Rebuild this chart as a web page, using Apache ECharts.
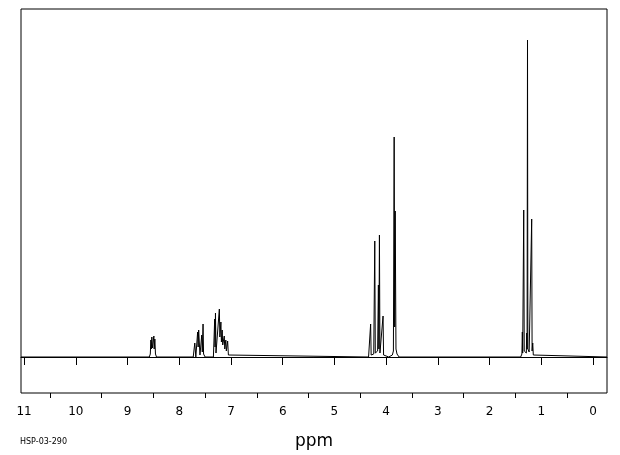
<!DOCTYPE html>
<html>
<head>
<meta charset="utf-8">
<script src="https://cdn.jsdelivr.net/npm/echarts@6/dist/echarts.min.js"></script>
<style>
  html, body { margin: 0; padding: 0; background: #fff; }
  #chart { width: 620px; height: 455px; }
</style>
</head>
<body>
<div id="chart"></div>
<script>
// spectrum vertices (ppm, relative intensity)
const shiftPpm = [
  11.06,
  8.58, 8.56, 8.549, 8.54, 8.53, 8.52, 8.491, 8.485, 8.472, 8.46, 8.44,
  7.73, 7.70, 7.68, 7.66, 7.645, 7.635, 7.625, 7.60, 7.58, 7.565, 7.555, 7.54, 7.53, 7.50,
  7.34, 7.315, 7.308, 7.30, 7.29, 7.26, 7.225, 7.215, 7.195, 7.185, 7.17, 7.16, 7.13, 7.12, 7.10, 7.09, 7.065, 7.05, 7.02,
  4.34, 4.30, 4.29, 4.24, 4.22, 4.21, 4.165, 4.15, 4.14, 4.13, 4.12, 4.06, 4.05, 3.95,
  3.88, 3.86, 3.845, 3.835, 3.825, 3.81, 3.79, 3.75,
  1.40, 1.375, 1.367, 1.36, 1.34, 1.33, 1.29, 1.282, 1.275, 1.267, 1.26, 1.244, 1.235, 1.186, 1.178, 1.166, 1.155, 1.13,
  -0.27
];
const intensity = [
  0,
  0, 3, 17, 8, 20, 9, 21, 8, 18, 3, 0,
  0, 14, 0, 2, 25, 10, 27, 2, 4, 22, 5, 33, 3, 0,
  0, 38, 10, 44, 4, 3, 48, 20, 35, 15, 27, 12, 21, 8, 17, 6, 16, 2, 0,
  0, 33, 2, 3, 116, 4, 6, 72, 8, 122, 4, 41, 2, 0,
  2, 6, 220, 30, 146, 8, 3, 0,
  0, 3, 25, 4, 147, 6, 4, 24, 8, 317, 8, 10, 5, 138, 6, 14, 2, 0,
  0
];
const majorTicks = [0, 1, 2, 3, 4, 5, 6, 7, 8, 9, 10, 11];
const minorTicks = [0.5, 1.5, 2.5, 3.5, 4.5, 5.5, 6.5, 7.5, 8.5, 9.5, 10.5];

const chart = echarts.init(document.getElementById('chart'));

const spectrum = shiftPpm.map((p, i) => [p, intensity[i]]);

const option = {
  animation: false,
  backgroundColor: '#fff',
  grid: {
    left: 21, right: 13, top: 9, bottom: 62,
    outerBoundsMode: 'none',
    containLabel: false,
    show: true, borderColor: '#000', borderWidth: 1
  },
  xAxis: [
    {
      type: 'value',
      inverse: true,
      min: -0.27,
      max: 11.06,
      position: 'bottom',
      name: 'ppm',
      nameLocation: 'middle',
      nameGap: 40,
      nameTextStyle: { color: '#000', fontSize: 17, fontFamily: 'DejaVu Sans' },
      axisLine: { show: true, lineStyle: { color: '#000', width: 1 } },
      axisTick: { show: true, length: 8, customValues: majorTicks, lineStyle: { color: '#000' } },
      axisLabel: {
        customValues: majorTicks, color: '#000', fontSize: 12,
        fontFamily: 'DejaVu Sans', margin: 13
      },
      splitLine: { show: false }
    },
    {
      type: 'value',
      inverse: true,
      min: -0.27,
      max: 11.06,
      position: 'bottom',
      axisLine: { show: false },
      axisTick: { show: true, length: 5, customValues: minorTicks, lineStyle: { color: '#000' } },
      axisLabel: { show: false },
      splitLine: { show: false }
    }
  ],
  yAxis: {
    type: 'value',
    min: -36,
    max: 348,
    show: false
  },
  graphic: [
    {
      type: 'text',
      left: 20,
      top: 438,
      style: { text: 'HSP-03-290', fill: '#000', fontSize: 8, fontFamily: 'DejaVu Sans' }
    }
  ],
  series: [
    {
      type: 'line',
      xAxisIndex: 0,
      data: spectrum,
      symbol: 'none',
      lineStyle: { color: '#000', width: 1 },
      silent: true
    }
  ]
};

chart.setOption(option);
</script>
</body>
</html>
